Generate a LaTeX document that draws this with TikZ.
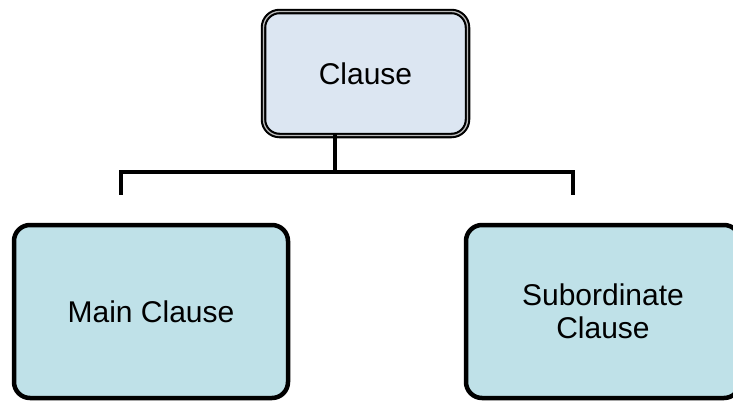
\documentclass[tikz,border=0pt]{standalone}
\usepackage{fontspec}
\setmainfont{Liberation Sans}
\usepackage{tikz}
\definecolor{topfill}{RGB}{220,230,242}
\definecolor{boxfill}{RGB}{191,225,232}
\tikzstyle{clausebox}=[rectangle,rounded corners=16pt,draw,fill=boxfill,line width=4.5pt,minimum width=274pt,minimum height=173pt,align=center,font=\fontsize{30}{33}\selectfont]
\tikzstyle{rootbox}=[rectangle,rounded corners=16pt,draw,fill=topfill,line width=2.1pt,double=gray!55,double distance=1.3pt,minimum width=204pt,minimum height=124pt,align=center,font=\fontsize{30}{33}\selectfont]
\tikzstyle{bar}=[line width=4.5pt,line cap=rect]
\newcommand{\clausebox}{\node[clausebox]}

\begin{document}
\begin{tikzpicture}[x=1pt,y=-1pt]
		% % % % % % % % % % % % % % % % % % % % % % % % % % % % % 
		\useasboundingbox (0,0) rectangle (733,400);
		%*********************
		\node[rootbox] (top) at (365.5,73.5) {Clause};
		%*********************
		\clausebox (main) at (151,311.5) {Main Clause};
		\clausebox (sub) at (603,311.5) {Subordinate\\Clause};
		%*********************
		\coordinate (h0) at (335,172);
		\coordinate (hl) at (121,172);
		\coordinate (hr) at (573,172);
		\coordinate (ll) at (121,193);
		\coordinate (lr) at (573,193);
		%*********************
		
		\path
		% % % % % % % % % % % % % % % % %
		(top.south -| h0) edge [bar] (h0)
		(hl) edge [bar] (hr)
		(hl) edge [bar] (ll)
		(hr) edge [bar] (lr)
		%*********************
		;
\end{tikzpicture}
\end{document}
